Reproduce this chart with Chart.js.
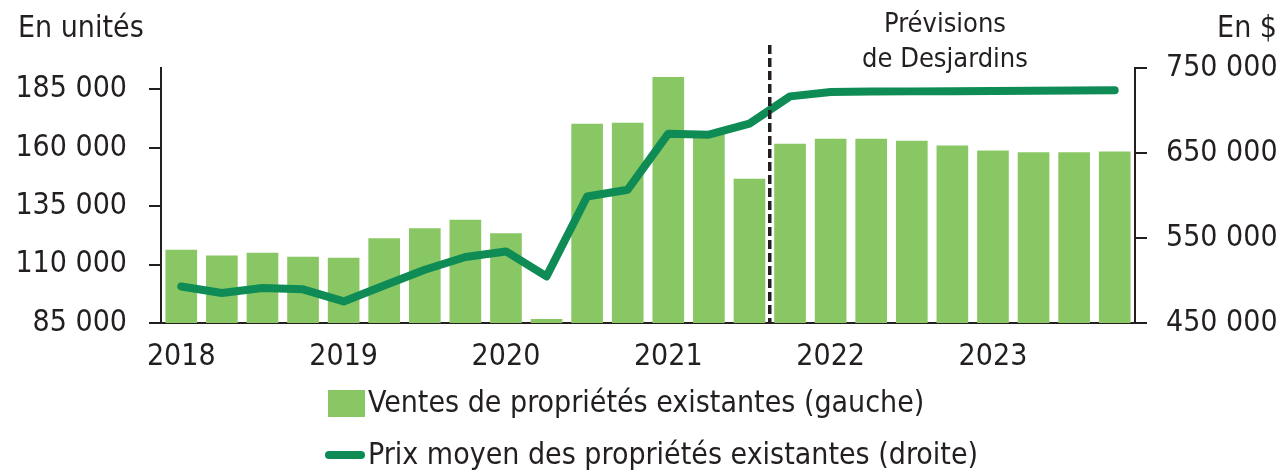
<!DOCTYPE html>
<html>
<head>
<meta charset="utf-8">
<script src="https://cdn.jsdelivr.net/npm/chart.js@4.4.1/dist/chart.umd.min.js"></script>
<style>
  html, body { margin: 0; padding: 0; background: #fff; }
  #wrap { width: 1282px; height: 470px; }
</style>
</head>
<body>
<div id="wrap"><canvas id="myChart"></canvas></div>
<script>
// quarterly data, 2018 T1 -> 2023 T4 (forecast from 2021 T4)
const quarters = [
  "2018T1","2018T2","2018T3","2018T4",
  "2019T1","2019T2","2019T3","2019T4",
  "2020T1","2020T2","2020T3","2020T4",
  "2021T1","2021T2","2021T3","2021T4",
  "2022T1","2022T2","2022T3","2022T4",
  "2023T1","2023T2","2023T3","2023T4"
]
const years = ["2018","2019","2020","2021","2022","2023"]
const ventes = [116400, 113900, 115100, 113400, 112900, 121300, 125600, 129200,
  123400, 86700, 170300, 170800, 190300, 166100, 146800, 161800,
  163900, 163900, 163000, 161000, 158900, 158100, 158100, 158400]
const prix = [493000, 485300, 491200, 489600, 475400, 494000, 512700, 527700,
  534200, 504800, 598900, 606800, 672700, 671500, 684500, 716600,
  721800, 722300, 722500, 722600, 722800, 723100, 723400, 723800]
const leftTicks = [85000, 110000, 135000, 160000, 185000]
const forecastStart = 15  // first forecast quarter (2021T4)

const FONT = '"DejaVu Sans Condensed", "Liberation Sans Narrow", sans-serif'
const INK = '#231f20'
const BAR = '#88c764'
const LINE = '#0f8c55'
const FS = 30

function fmt(v) {
  return String(v).replace(/\B(?=(\d{3})+(?!\d))/g, ' ')
}

const extras = {
  id: 'extras',
  afterDatasetsDraw(chart) {
    const ctx = chart.ctx
    const x = chart.scales.x
    const area = chart.chartArea
    const xd = (x.getPixelForValue(forecastStart - 1) + x.getPixelForValue(forecastStart)) / 2
    ctx.save()
    ctx.strokeStyle = INK
    ctx.lineWidth = 3.5
    ctx.setLineDash([9, 4])
    ctx.beginPath()
    ctx.moveTo(xd, 45)
    ctx.lineTo(xd, area.bottom)
    ctx.stroke()
    ctx.restore()
  },
  afterDraw(chart) {
    const ctx = chart.ctx
    ctx.save()
    ctx.fillStyle = INK
    ctx.textBaseline = 'alphabetic'
    ctx.font = FS + 'px ' + FONT
    ctx.textAlign = 'left'
    ctx.fillText('En unités', 18, 37)
    ctx.textAlign = 'right'
    ctx.fillText('En $', 1277, 37)
    ctx.font = '27px ' + FONT
    ctx.textAlign = 'center'
    ctx.fillText('Prévisions', 945, 32)
    ctx.fillText('de Desjardins', 945, 67)

    // legend
    ctx.fillStyle = BAR
    ctx.fillRect(328, 390, 37, 27)
    ctx.strokeStyle = LINE
    ctx.lineWidth = 8
    ctx.lineCap = 'round'
    ctx.beginPath()
    ctx.moveTo(329, 455)
    ctx.lineTo(361, 455)
    ctx.stroke()
    ctx.fillStyle = INK
    ctx.font = FS + 'px ' + FONT
    ctx.textAlign = 'left'
    ctx.textBaseline = 'middle'
    ctx.fillText('Ventes de propriétés existantes (gauche)', 368, 404)
    ctx.fillText('Prix moyen des propriétés existantes (droite)', 368, 456)
    ctx.restore()
  }
}

const data = {
  labels: quarters,
  datasets: [
    {
      type: 'line',
      label: 'Prix moyen des propriétés existantes (droite)',
      data: prix,
      yAxisID: 'y1',
      borderColor: LINE,
      borderWidth: 8,
      borderCapStyle: 'round',
      borderJoinStyle: 'round',
      pointRadius: 0,
      tension: 0,
      order: 0
    },
    {
      type: 'bar',
      label: 'Ventes de propriétés existantes (gauche)',
      data: ventes,
      yAxisID: 'y',
      backgroundColor: BAR,
      categoryPercentage: 1,
      barPercentage: 0.78,
      order: 1
    }
  ]
}

const config = {
  data: data,
  plugins: [extras],
  options: {
    responsive: false,
    animation: false,
    layout: { padding: { top: 68, left: 0, right: 0, bottom: 0 } },
    plugins: {
      legend: { display: false },
      tooltip: { enabled: false },
      title: { display: false }
    },
    scales: {
      x: {
        offset: true,
        grid: { display: false, drawTicks: false },
        border: { display: true, color: INK, width: 2 },
        ticks: {
          autoSkip: false,
          maxRotation: 0,
          padding: 16,
          color: INK,
          font: { family: FONT, size: FS },
          callback: function(v, i) { return i % 4 === 0 ? years[i / 4] : '' }
        },
        afterFit: function(s) { s.height = 147 }
      },
      y: {
        position: 'left',
        min: 85000,
        max: 194200,
        grid: { drawOnChartArea: false, drawTicks: true, tickLength: 12, color: INK, lineWidth: 2 },
        border: { display: true, color: INK, width: 2 },
        ticks: {
          padding: 22,
          color: INK,
          font: { family: FONT, size: FS },
          callback: function(v) { return fmt(v) }
        },
        afterBuildTicks: function(s) { s.ticks = leftTicks.map(v => ({ value: v })) },
        afterFit: function(s) { s.width = 161 }
      },
      y1: {
        position: 'right',
        min: 450000,
        max: 750000,
        grid: { drawOnChartArea: false, drawTicks: true, tickLength: 12, color: INK, lineWidth: 2 },
        border: { display: true, color: INK, width: 2 },
        ticks: {
          stepSize: 100000,
          padding: 19,
          color: INK,
          font: { family: FONT, size: FS },
          callback: function(v) { return fmt(v) }
        },
        afterFit: function(s) { s.width = 147 }
      }
    }
  }
}

const canvas = document.getElementById('myChart')
canvas.width = 1282
canvas.height = 470
var myChart = new Chart(canvas, config)
</script>
</body>
</html>
